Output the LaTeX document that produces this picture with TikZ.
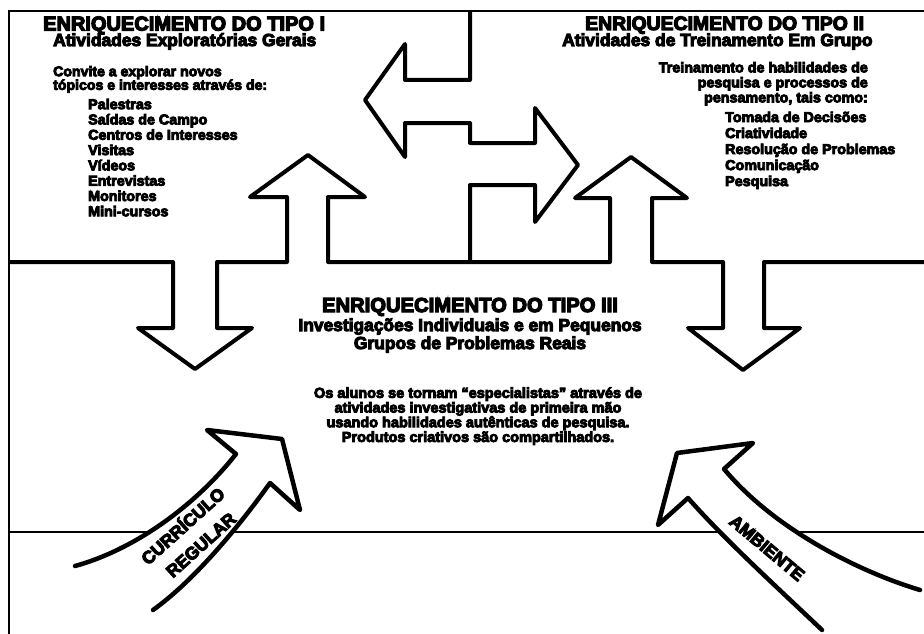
\documentclass[tikz,border=0pt]{standalone}
\usepackage{fontspec}
\setmainfont{Liberation Sans}[BoldFeatures={FakeBold=6}]
\usetikzlibrary{calc}

\begin{document}
\begin{tikzpicture}[x=1pt, y=-1pt,
        title_style/.style={inner sep=0pt, font=\bfseries\fontsize{20}{21}\selectfont},
        sub_style/.style={inner sep=0pt, font=\bfseries\fontsize{17.4}{18}\selectfont},
        text_style/.style={inner sep=0pt, font=\bfseries\fontsize{14.3}{15.3}\selectfont},
        curve_text_style/.style={inner sep=0pt, font=\bfseries\fontsize{17.5}{18}\selectfont},
        frame_style/.style={draw=black, line width=2pt},
        outline_style/.style={draw=black, line width=4pt, line join=round},
        curve_arrow_style/.style={draw=black, fill=white, line width=4.5pt, line join=round, line cap=round}]

        \useasboundingbox (0,0) rectangle (924,634);

        % frame and lower line
        \draw [frame_style] (9,634) -- (9,11) -- (924,11);
        \draw [frame_style] (9,532) -- (924,532);

        % divider between type I and type II, with the two arrows
        \draw [outline_style] (470,11) -- (470,80) -- (405,80) -- (405,44) -- (365,100)
            -- (405,157) -- (405,123) -- (470,123) -- (470,143) -- (535,143) -- (535,108)
            -- (578,165) -- (535,222) -- (535,185) -- (470,185) -- (470,262);

        % boundary of type III, with the up and down arrows
        \draw [outline_style] (9,262) -- (173,262) -- (173,328) -- (138,328) -- (195,369)
            -- (252,328) -- (217,328) -- (217,262) -- (287,262) -- (287,197) -- (250,197)
            -- (308,155) -- (365,197) -- (328,197) -- (328,262) -- (610,262) -- (610,198)
            -- (575,198) -- (631,157) -- (687,198) -- (652,198) -- (652,262) -- (723,262)
            -- (723,328) -- (688,328) -- (743,370) -- (800,328) -- (764,328) -- (764,262)
            -- (924,262);

        % curved arrows
        \draw [curve_arrow_style] (75,566) .. controls (140,548) and (200,500) .. (236,454)
            -- (207,430) -- (282,439) -- (300,510) -- (270,483)
            .. controls (240,525) and (195,580) .. (153,610);
        \draw [curve_arrow_style] (920,590) .. controls (860,572) and (775,530) .. (724,469)
            -- (753,443) -- (677,453) -- (658,525) -- (688,498)
            .. controls (725,540) and (780,590) .. (822,630);

        % type I
        \node [title_style, anchor=base west] (tipo1) at (43,30.5) {ENRIQUECIMENTO DO TIPO I};
        \node [sub_style, anchor=base west] (tipo1sub) at (53,46) {Atividades Exploratórias Gerais};
        \node [text_style, anchor=north west, align=left, font=\bfseries\fontsize{14.1}{13.6}\selectfont] (tipo1txt) at (53,65.8)
            {Convite a explorar novos\\tópicos e interesses através de:};
        \node [text_style, anchor=north west, align=left] (tipo1list) at (88,98.6)
            {Palestras\\Saídas de Campo\\Centros de Interesses\\Visitas\\Vídeos\\Entrevistas\\Monitores\\Mini-cursos};

        % type II
        \node [title_style, anchor=base west, font=\bfseries\fontsize{19.4}{21}\selectfont] (tipo2) at (585,30) {ENRIQUECIMENTO DO TIPO II};
        \node [sub_style, anchor=base west] (tipo2sub) at (562,46) {Atividades de Treinamento Em Grupo};
        \node [text_style, anchor=north east, align=right, font=\bfseries\fontsize{14.3}{15}\selectfont] (tipo2txt) at (868,61.8)
            {Treinamento de habilidades de\\pesquisa e processos de\\pensamento, tais como:};
        \node [text_style, anchor=north west, align=left, font=\bfseries\fontsize{14.3}{16}\selectfont] (tipo2list) at (725,111.5)
            {Tomada de Decisões\\Criatividade\\Resolução de Problemas\\Comunicação\\Pesquisa};

        % type III
        \node [title_style, anchor=base, font=\bfseries\fontsize{20.2}{21}\selectfont] (tipo3) at (470,312) {ENRIQUECIMENTO DO TIPO III};
        \node [sub_style, anchor=north, align=center] (tipo3sub) at (470,318.2)
            {Investigações Individuais e em Pequenos\\Grupos de Problemas Reais};
        \node [text_style, anchor=north, align=center, font=\bfseries\fontsize{14.5}{14.7}\selectfont] (tipo3txt) at (478,387)
            {Os alunos se tornam “especialistas” através de\\atividades investigativas de primeira mão\\usando habilidades autênticas de pesquisa.\\Produtos criativos são compartilhados.};

        % labels of the curved arrows
        \node [curve_text_style, rotate=42] (curriculo) at (182,525) {CURRÍCULO};
        \node [curve_text_style, rotate=42] (regular) at (201,545) {REGULAR};
        \node [curve_text_style, rotate=-40] (ambiente) at (767,548) {AMBIENTE};
\end{tikzpicture}
\end{document}
